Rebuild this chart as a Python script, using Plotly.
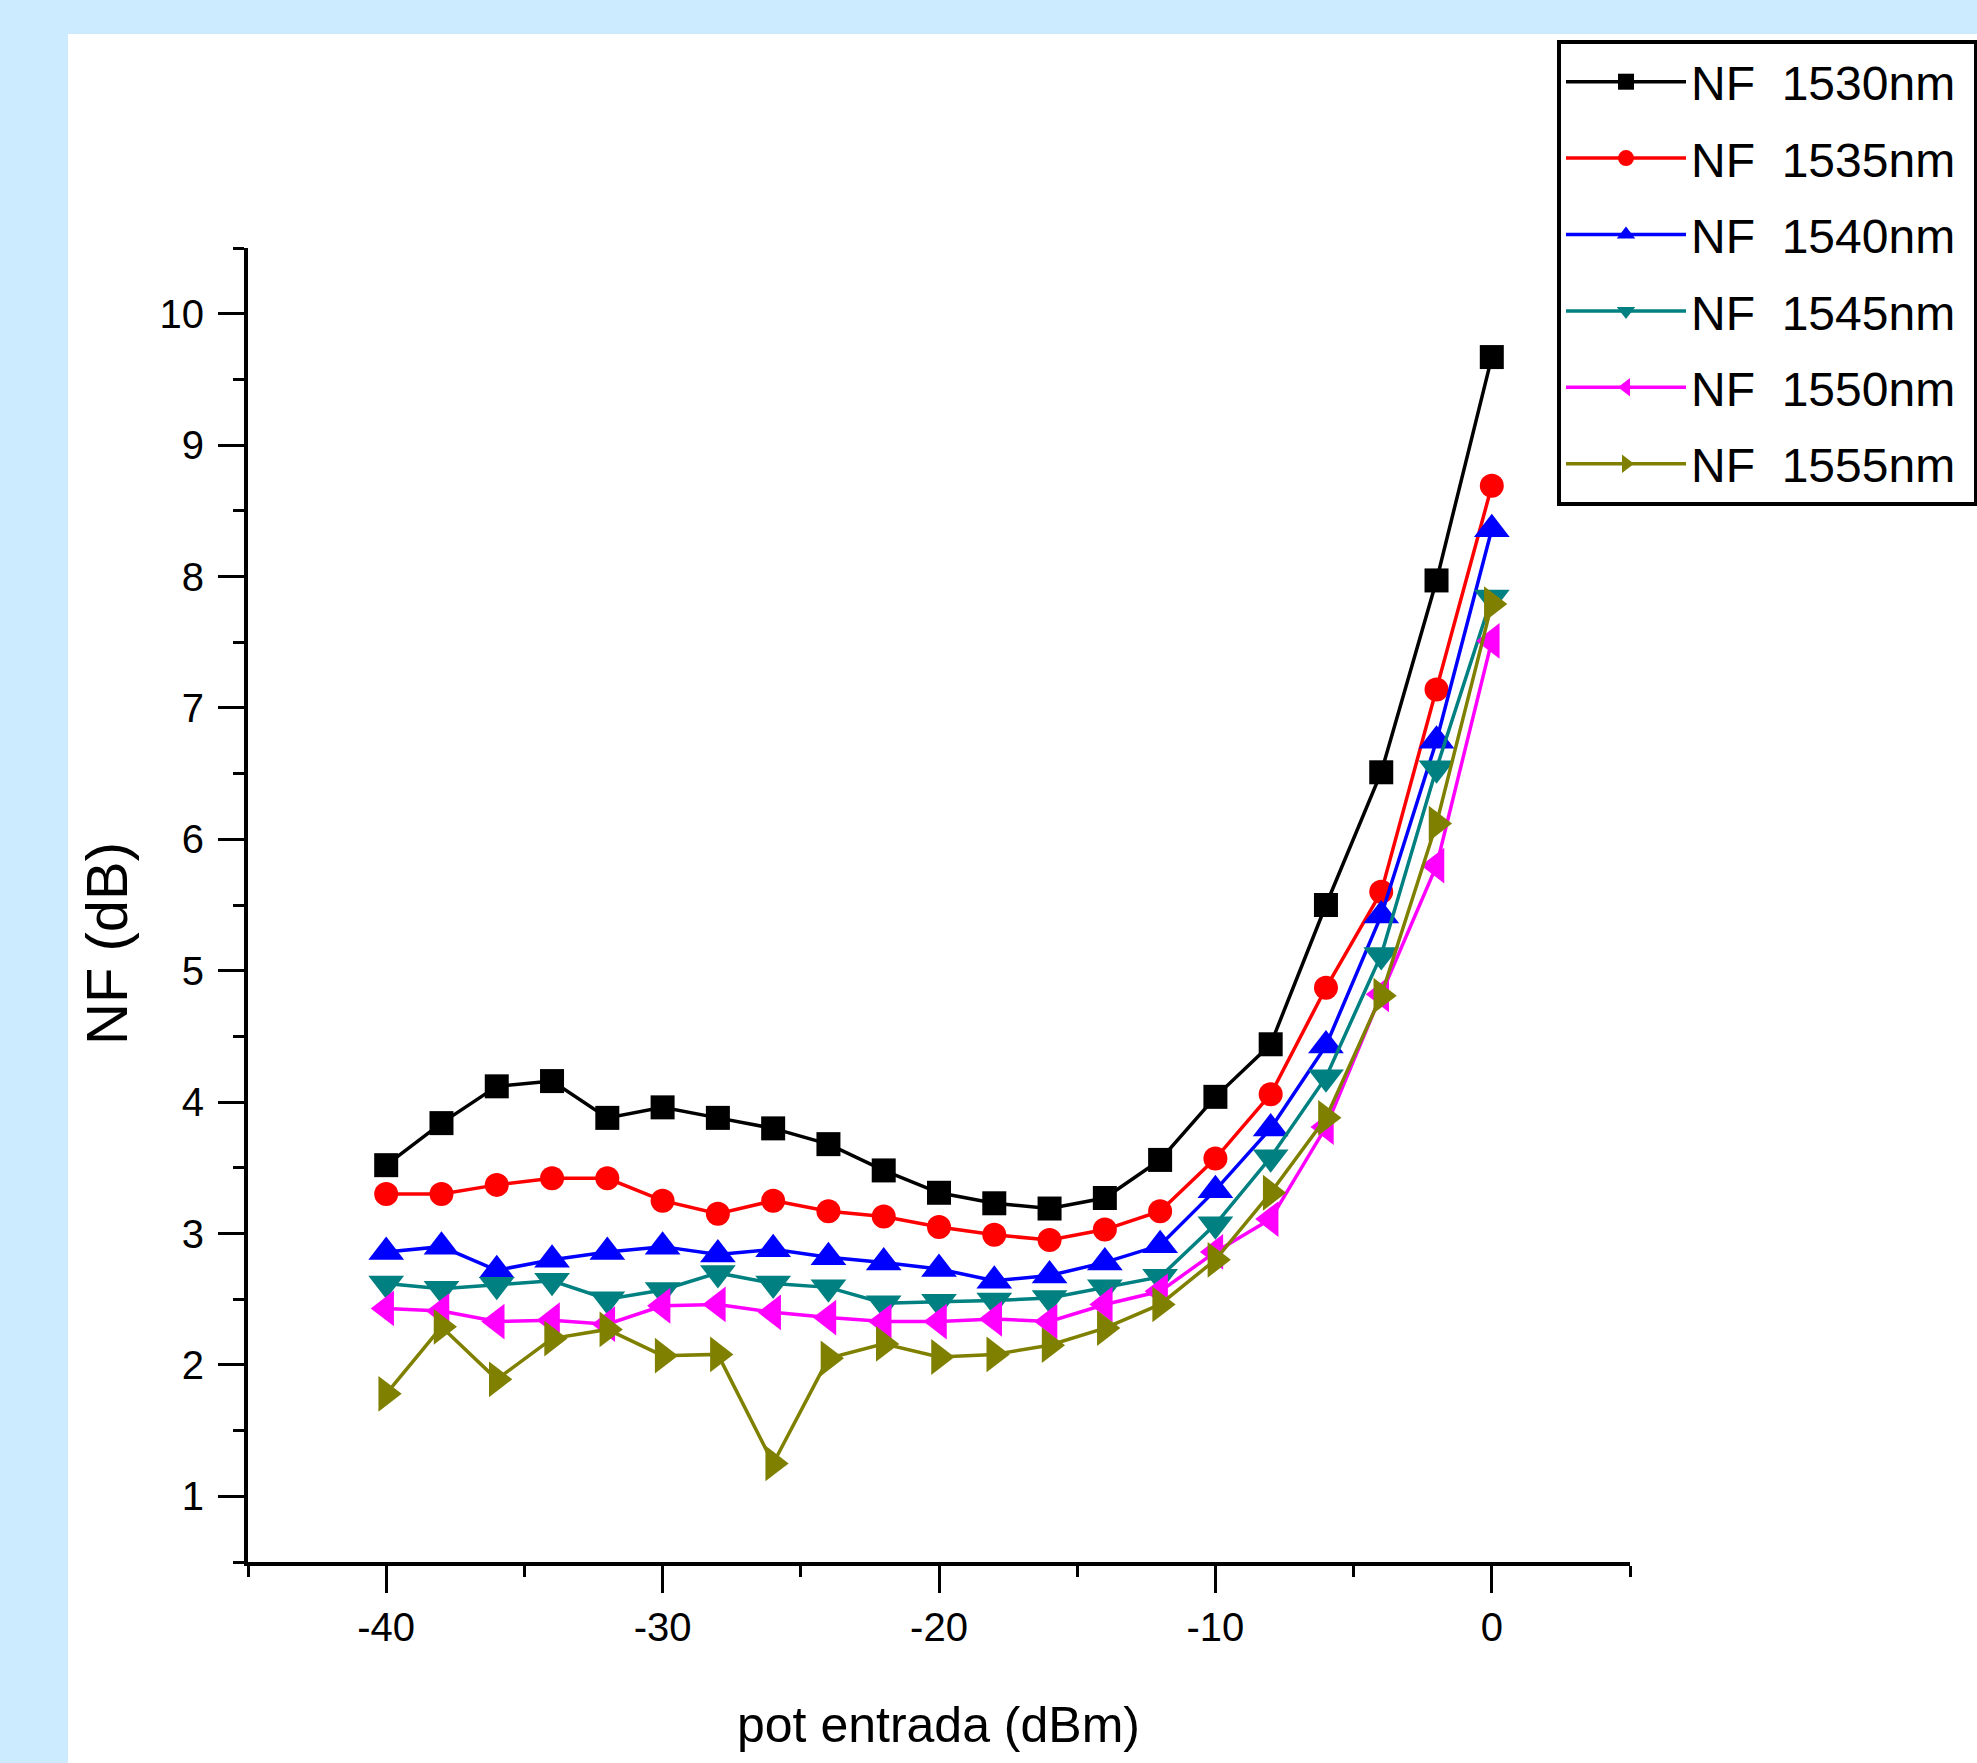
import plotly.graph_objects as go

# ---------------- data ----------------
pot_entrada = [-40, -38, -36, -34, -32, -30, -28, -26, -24, -22, -20,
               -18, -16, -14, -12, -10, -8, -6, -4, -2, 0]

nf_1530 = [3.52, 3.84, 4.12, 4.16, 3.88, 3.96, 3.88, 3.80, 3.68, 3.48, 3.31,
           3.23, 3.19, 3.27, 3.56, 4.04, 4.44, 5.50, 6.51, 7.97, 9.67]
nf_1535 = [3.30, 3.30, 3.37, 3.42, 3.42, 3.25, 3.15, 3.25, 3.17, 3.13, 3.05,
           2.99, 2.95, 3.03, 3.17, 3.57, 4.06, 4.87, 5.60, 7.14, 8.69]
nf_1540 = [2.86, 2.90, 2.72, 2.80, 2.86, 2.90, 2.84, 2.88, 2.82, 2.78, 2.73,
           2.64, 2.68, 2.78, 2.91, 3.33, 3.80, 4.43, 5.42, 6.75, 8.36]
nf_1545 = [2.62, 2.58, 2.61, 2.64, 2.50, 2.57, 2.70, 2.62, 2.59, 2.47, 2.48,
           2.49, 2.51, 2.59, 2.67, 3.07, 3.58, 4.19, 5.12, 6.54, 7.84]
nf_1550 = [2.43, 2.41, 2.33, 2.34, 2.31, 2.45, 2.46, 2.40, 2.36, 2.33, 2.33,
           2.35, 2.33, 2.46, 2.56, 2.86, 3.11, 3.81, 4.82, 5.80, 7.51]
nf_1555 = [1.78, 2.29, 1.89, 2.20, 2.27, 2.07, 2.08, 1.25, 2.05, 2.16, 2.06,
           2.08, 2.15, 2.28, 2.46, 2.80, 3.31, 3.88, 4.81, 6.12, 7.79]

series_names = ["NF  1530nm", "NF  1535nm", "NF  1540nm",
                "NF  1545nm", "NF  1550nm", "NF  1555nm"]
series_values = [nf_1530, nf_1535, nf_1540, nf_1545, nf_1550, nf_1555]

x_ticks = [-40, -30, -20, -10, 0]
y_ticks = [1, 2, 3, 4, 5, 6, 7, 8, 9, 10]

x_title = "pot entrada (dBm)"
y_title = "NF (dB)"

# ---------------- style ----------------
colors = ["#000000", "#FF0000", "#0000FF", "#008080", "#FF00FF", "#808000"]
symbols = ["square", "circle", "triangle-up", "triangle-down",
           "triangle-left", "triangle-right"]
sizes = [24, 24, 31, 31, 31, 31]

W, H = 1977, 1763
ML, MR, MT, MB = 248, 347, 248, 201
PW = W - ML - MR
PH = H - MT - MB

FONT = "Liberation Sans, Arial, sans-serif"
PAD = "\u00a0"  # widens the legend so its right border sits at the page edge

fig = go.Figure()
for i, (name, vals) in enumerate(zip(series_names, series_values)):
    fig.add_trace(go.Scatter(
        x=pot_entrada, y=vals, name=name + PAD, mode="lines+markers",
        legendgroup=f"g{i}",
        line=dict(color=colors[i], width=3.5),
        marker=dict(symbol=symbols[i], size=sizes[i], color=colors[i],
                    line=dict(width=0)),
    ))


def px_x(p):
    return (p - ML) / PW


def px_y(p):
    return (H - MB - p) / PH


fig.update_layout(
    width=W, height=H,
    margin=dict(l=ML, r=MR, t=MT, b=MB, autoexpand=False),
    paper_bgcolor="#CCEBFF",
    plot_bgcolor="#FFFFFF",
    font=dict(family=FONT, color="#000000"),
    showlegend=True,
    legend=dict(
        x=px_x(1557), y=px_y(40), xanchor="left", yanchor="top",
        bgcolor="#FFFFFF", bordercolor="#000000", borderwidth=4,
        font=dict(family=FONT, size=48, color="#000000"),
        traceorder="grouped", tracegroupgap=11, itemwidth=120,
    ),
    xaxis=dict(
        range=[-45, 5], tickvals=x_ticks, ticktext=[str(v) for v in x_ticks],
        ticks="outside", ticklen=27, tickwidth=3, tickcolor="#000000",
        showline=True, linewidth=4, linecolor="#000000",
        showgrid=False, zeroline=False,
        tickfont=dict(family=FONT, size=40, color="#000000"),
        minor=dict(dtick=5, tick0=0, ticks="outside", ticklen=11,
                   tickwidth=3, tickcolor="#000000", showgrid=False),
    ),
    yaxis=dict(
        range=[0.5, 10.5], tickvals=y_ticks, ticktext=[str(v) for v in y_ticks],
        ticks="outside", ticklen=26, tickwidth=3, tickcolor="#000000",
        showline=True, linewidth=4, linecolor="#000000",
        showgrid=False, zeroline=False, ticklabelstandoff=6,
        tickfont=dict(family=FONT, size=40, color="#000000"),
        minor=dict(dtick=0.5, tick0=0.5, ticks="outside", ticklen=11,
                   tickwidth=3, tickcolor="#000000", showgrid=False),
    ),
    shapes=[dict(type="rect", xref="paper", yref="paper", layer="below",
                 x0=px_x(68), x1=px_x(W + 20), y0=px_y(H + 20), y1=px_y(34),
                 fillcolor="#FFFFFF", line=dict(width=0))],
    annotations=[
        dict(text=x_title, xref="paper", yref="paper", x=px_x(938), y=px_y(1725),
             xanchor="center", yanchor="middle", showarrow=False,
             font=dict(family=FONT, size=50, color="#000000")),
        dict(text=y_title, xref="paper", yref="paper", x=px_x(106), y=px_y(944),
             xanchor="center", yanchor="middle", showarrow=False, textangle=-90,
             font=dict(family=FONT, size=58, color="#000000")),
    ],
)

fig.write_html(
    "out.html",
    config={"displayModeBar": False},
    post_script="document.body.style.margin='0';"
                "document.body.style.background='#CCEBFF';",
)
